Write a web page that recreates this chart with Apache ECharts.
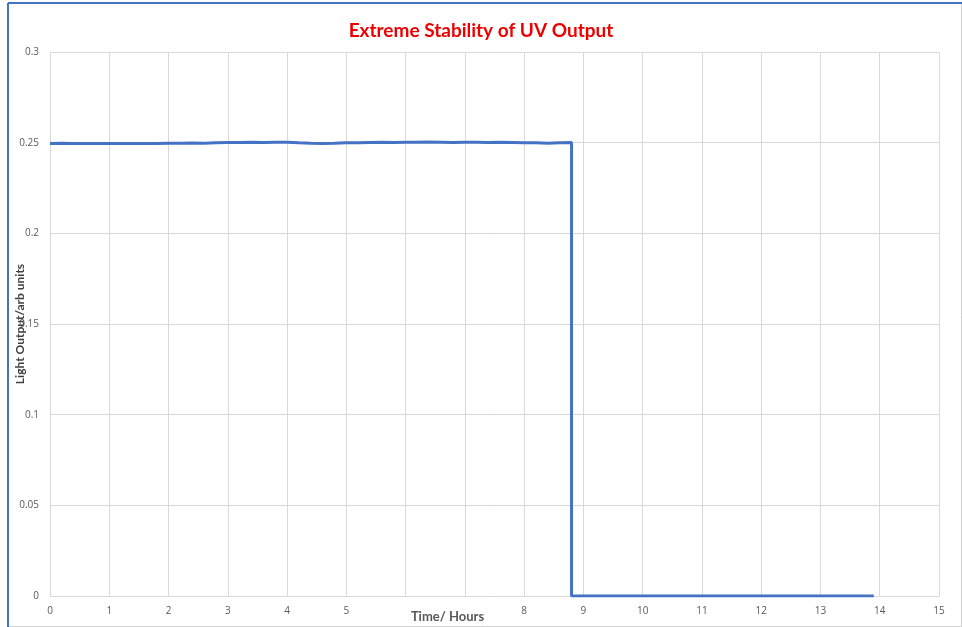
<!DOCTYPE html>
<html>
<head>
<meta charset="utf-8">
<script src="https://cdn.jsdelivr.net/npm/echarts@6/dist/echarts.min.js"></script>
<style>html,body{margin:0;padding:0;background:#fff}#c{width:962px;height:627px}</style>
</head>
<body>
<div id="c"></div>
<script>
// Time (hours) of each reading while the lamp is on
var onTimes = [0,0.2,0.4,0.6,0.8,1.0,1.2,1.4,1.6,1.8,2.0,2.2,2.4,2.6,2.8,3.0,3.2,3.4,3.6,3.8,4.0,4.2,4.4,4.6,4.8,5.0,5.2,5.4,5.6,5.8,6.0,6.2,6.4,6.6,6.8,7.0,7.2,7.4,7.6,7.8,8.0,8.2,8.4,8.6,8.8];
// Light output (arb units) while on
var onValues = [0.2496,0.2497,0.2496,0.2495,0.2496,0.2495,0.2495,0.2496,0.2495,0.2496,0.2497,0.2497,0.2498,0.2497,0.2500,0.2501,0.2501,0.2502,0.2501,0.2502,0.2502,0.2499,0.2497,0.2496,0.2497,0.2499,0.2500,0.2501,0.2502,0.2501,0.2502,0.2502,0.2503,0.2502,0.2501,0.2502,0.2502,0.2501,0.2502,0.2501,0.2500,0.2499,0.2497,0.2499,0.2501];
// After switch-off
var offTimes = [8.8, 13.9];
var offValues = [0, 0];
var xTickLabels = ['0','1','2','3','4','5','','','8','9','10','11','12','13','14','15'];
var yTickLabels = ['0','0.05','0.1','0.15','0.2','0.25','0.3'];

var data = [];
for (var i = 0; i < onTimes.length; i++) data.push([onTimes[i], onValues[i]]);
for (var j = 0; j < offTimes.length; j++) data.push([offTimes[j], offValues[j]]);

var chart = echarts.init(document.getElementById('c'));
var labelFont = {color:'#595959', fontSize:10, fontFamily:'Open Sans, Liberation Sans, sans-serif'};
chart.setOption({
  animation:false,
  backgroundColor:'#fff',
  title:{text:'Extreme Stability of UV Output', left:'center', top:16,
    textStyle:{color:'#ee0000', fontSize:19, fontWeight:'bold', fontFamily:'Lato, Open Sans, sans-serif'}},
  grid:{left:50, right:23, top:52, bottom:31, containLabel:false, outerBoundsMode:'none'},
  xAxis:{type:'value', min:0, max:15, interval:1,
    name:'Time/ Hours', nameLocation:'middle', nameGap:14, nameMoveOverlap:false,
    nameTextStyle:{color:'#595959', fontSize:13, fontWeight:'bold', fontFamily:'Lato, Open Sans, sans-serif', padding:[0,94,0,0]},
    axisLine:{lineStyle:{color:'#d9d9d9'}}, axisTick:{show:false},
    axisLabel:Object.assign({margin:10, formatter:function(v){return xTickLabels[Math.round(v)];}}, labelFont),
    splitLine:{show:true, lineStyle:{color:'#d9d9d9'}}},
  yAxis:{type:'value', min:0, max:0.3, interval:0.05,
    name:'Light Output/arb units', nameLocation:'middle', nameGap:24, nameRotate:90, nameMoveOverlap:false,
    nameTextStyle:{color:'#404040', fontSize:12, fontWeight:'bold', fontFamily:'Lato, Open Sans, sans-serif'},
    axisLine:{show:true, lineStyle:{color:'#d9d9d9'}}, axisTick:{show:false},
    axisLabel:Object.assign({margin:11, formatter:function(v){return yTickLabels[Math.round(v/0.05)];}}, labelFont),
    splitLine:{show:true, lineStyle:{color:'#d9d9d9'}}},
  series:[{type:'line', data:data, showSymbol:false, symbol:'none',
    lineStyle:{color:'#4472c4', width:3}, itemStyle:{color:'#4472c4'}}],
  graphic:[
    {type:'line', shape:{x1:8, y1:3, x2:962, y2:3}, style:{stroke:'#4472c4', lineWidth:2}},
    {type:'line', shape:{x1:8, y1:3, x2:8, y2:627}, style:{stroke:'#4472c4', lineWidth:2}},
    {type:'line', shape:{x1:961.5, y1:4, x2:961.5, y2:627}, style:{stroke:'#d0d0d0', lineWidth:1}},
    {type:'line', shape:{x1:9, y1:626.5, x2:962, y2:626.5}, style:{stroke:'#d0d0d0', lineWidth:1}}
  ]
});
</script>
</body>
</html>
